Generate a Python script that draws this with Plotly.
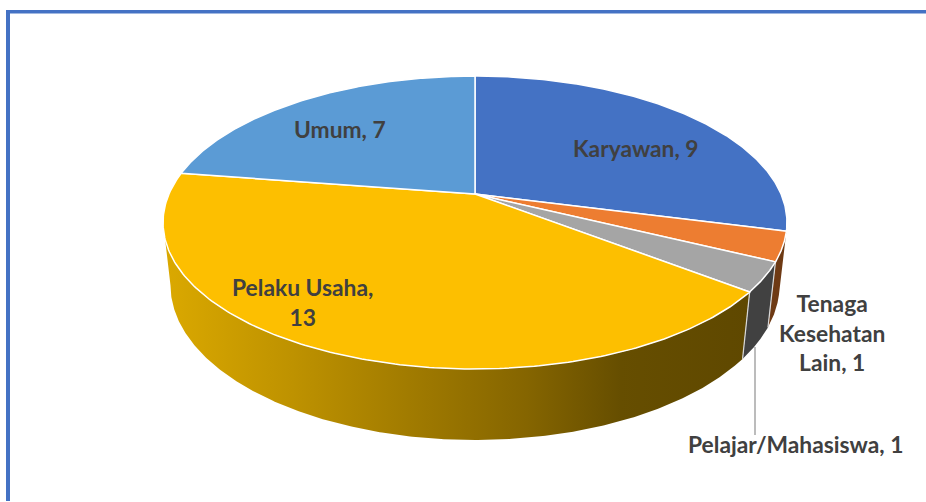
import numpy as np
import plotly.graph_objects as go

categories = ["Karyawan", "Tenaga Kesehatan Lain", "Pelajar/Mahasiswa", "Pelaku Usaha", "Umum"]
values = [9, 1, 1, 13, 7]
top_colors = ["#4472C4", "#ED7D31", "#A5A5A5", "#FDBF00", "#5B9BD5"]
wall_colors = [None, "#6E3A14", "#414141", "gradient", None]
gradient_stops = [
    [0.0, "#DBA900"], [0.22, "#BE9200"], [0.42, "#A17B00"],
    [0.62, "#856500"], [0.78, "#664E00"], [1.0, "#5F4800"],
]

# Projection of the pie's disc onto the page (perspective tilt)
CX, CY, A, B, C = 475.0, 194.0, 306.0, 103.2, -0.1945
VANISH_Y = 2880.0


def top_xy(t):
    u, v = np.sin(t), -np.cos(t)
    d = 1 + C * v
    return CX + A * u / d, (B * v + CY) / d


def bottom_xy(t):
    x, y = top_xy(t)
    dy = 67 + (y - 292) * 4 / 77
    return CX + (x - CX) * (VANISH_Y - y - dy) / (VANISH_Y - y), y + dy


total = sum(values)
edges = np.cumsum([0] + values) / total * 2 * np.pi
fig = go.Figure()

# Side walls
for i, cat in enumerate(categories):
    if wall_colors[i] is None:
        continue
    t = np.linspace(edges[i], edges[i + 1], 400)
    kw = dict(fillcolor=wall_colors[i])
    if wall_colors[i] == "gradient":
        kw = dict(fillgradient=dict(type="horizontal", colorscale=gradient_stops))
        # stop at the left silhouette so the outer edge runs straight down
        t = t[: int(np.argmin(bottom_xy(t)[0])) + 1]
    xt, yt = top_xy(t)
    xb, yb = bottom_xy(t[::-1])
    xs = np.r_[xt, xb, xt[0]]
    ys = np.r_[yt, yb, yt[0]]
    fig.add_trace(go.Scatter(x=xs, y=ys, mode="lines", fill="toself", line=dict(width=0),
                             hoverinfo="skip", showlegend=False, name=cat + " side", **kw))

# Light seams between the side walls
for e in edges[2:4]:
    x0, y0 = top_xy(e)
    x1, y1 = bottom_xy(e)
    fig.add_trace(go.Scatter(x=[x0, x1], y=[y0, y1], mode="lines",
                             line=dict(color="#D9D9D9", width=1.2),
                             hoverinfo="skip", showlegend=False))

# Top faces
for i, cat in enumerate(categories):
    t = np.linspace(edges[i], edges[i + 1], 200)
    xt, yt = top_xy(t)
    fig.add_trace(go.Scatter(x=np.r_[CX, xt, CX], y=np.r_[CY, yt, CY], mode="lines", fill="toself",
                             fillcolor=top_colors[i], line=dict(color="white", width=1.5),
                             name=cat, hoverinfo="name", showlegend=False))

# Leader line of the Pelajar/Mahasiswa label
fig.add_trace(go.Scatter(x=[755, 755], y=[347, 435], mode="lines",
                         line=dict(color="#A6A6A6", width=1.5),
                         hoverinfo="skip", showlegend=False))

labels = [
    (f"{categories[0]}, {values[0]}", 636, 148),
    ("Tenaga<br>Kesehatan<br>Lain, " + str(values[1]), 832, 332),
    (f"{categories[2]}, {values[2]}", 795, 444),
    (f"{categories[3]},<br>{values[3]}", 302, 302),
    (f"{categories[4]}, {values[4]}", 340, 129),
]
for text, x, y in labels:
    fig.add_annotation(x=x, y=y, text=f"<b>{text}</b>", showarrow=False, xanchor="center",
                       yanchor="middle", align="center",
                       font=dict(family="Lato", size=22.8, color="#404040"))

fig.update_layout(
    width=926, height=502, margin=dict(l=0, r=0, t=0, b=0),
    paper_bgcolor="white", plot_bgcolor="white",
    xaxis=dict(range=[0, 926], visible=False, fixedrange=True),
    yaxis=dict(range=[502, 0], visible=False, fixedrange=True),
    shapes=[
        dict(type="line", xref="x", yref="y", x0=6, x1=926, y0=11.8, y1=11.8,
             line=dict(color="#4472C4", width=3.5)),
        dict(type="line", xref="x", yref="y", x0=8, x1=8, y0=10, y1=501,
             line=dict(color="#4472C4", width=4)),
    ],
)
fig.write_html("out.html", config=dict(displayModeBar=False),
               post_script="document.body.style.margin='0';document.documentElement.style.overflow='hidden';")
